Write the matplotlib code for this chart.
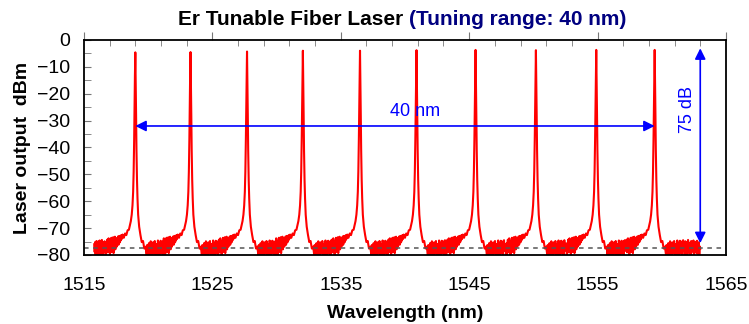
import matplotlib.pyplot as plt
import numpy as np
from matplotlib.ticker import MultipleLocator

plt.rcParams['font.family'] = ['Liberation Sans', 'DejaVu Sans']

# laser lines: centre wavelength (nm) and peak power (dBm)
peak_nm = [1519.0, 1523.3, 1527.7, 1532.05, 1536.5, 1540.9, 1545.5, 1550.2, 1554.9, 1559.45]
peak_dbm = [-4.6, -4.5, -4.3, -4.0, -4.0, -3.8, -3.7, -3.8, -3.7, -3.7]

trace_start = 1515.8
trace_end = 1563.0

# line shape read around one peak (same for all lines)
floor_step = 0.035
left_floor_start = -3.2
left_floor = [-76.0, -78.9, -75.2, -80.0, -77.4, -74.8, -79.1, -76.3, -80.0, -75.0,
              -77.8, -79.6, -74.6, -77.0, -80.0, -75.8, -78.3, -74.4, -79.2, -76.6,
              -80.0, -75.3, -77.9, -74.9, -78.8, -76.1, -80.0, -75.5,
              -77.6, -74.3, -79.0, -75.9, -73.8, -78.4, -76.2, -80.0, -74.7, -77.3,
              -73.6, -78.9, -75.4, -76.8, -73.4, -79.3, -74.8, -76.5, -73.2, -77.9,
              -75.1, -73.7, -76.9, -74.2,
              -75.6, -73.1, -76.2, -74.0, -72.9, -75.3, -73.5, -74.6, -72.6, -74.1,
              -73.0, -72.4, -73.3]
core_off = [-0.9, -0.8, -0.7, -0.6, -0.5, -0.42, -0.35, -0.28, -0.22, -0.17, -0.13,
            -0.09, -0.06, -0.03, 0.0, 0.03, 0.06, 0.09, 0.13, 0.17, 0.22, 0.3, 0.4,
            0.5, 0.6, 0.7, 0.8]
core_dbm = [-73.6, -72.0, -72.6, -70.8, -70.6, -68.9, -67.4, -65.0, -61.5, -56.5, -49.0,
            -37.0, -25.0, -13.0, 0.0, -15.0, -28.0, -41.0, -52.0, -59.0, -65.0, -69.5, -72.6,
            -75.2, -74.8, -77.6, -76.9]
right_floor_start = 0.85
right_floor = [-78.6, -80.0, -76.3, -79.2, -77.5, -80.0, -75.6, -78.4, -80.0, -76.8,
               -74.9, -78.9, -76.0, -80.0, -77.2, -75.3, -79.5, -76.6, -78.1, -74.8,
               -77.7, -80.0, -75.9, -78.6, -76.4, -79.8, -74.6, -77.3, -75.5, -80.0,
               -76.9, -78.2, -74.7, -79.4, -76.1, -77.8, -75.0, -80.0, -76.7, -74.5,
               -78.5, -75.8, -77.4, -79.9, -74.9, -76.8, -78.0, -75.2, -80.0, -77.1,
               -74.4, -78.7, -76.2, -79.3, -75.4, -77.6, -80.0, -74.8, -76.5, -78.8,
               -75.7, -77.9, -74.6, -80.0, -76.3, -78.4, -75.1, -79.1, -76.0, -77.5,
               -74.7, -79.6, -76.4, -78.2, -75.3, -80.0, -76.8, -77.7, -75.5]

noise_level = -77.3

shape_off = np.concatenate([left_floor_start + floor_step * np.arange(len(left_floor)),
                            core_off,
                            right_floor_start + floor_step * np.arange(len(right_floor))])
shape_dbm = np.concatenate([left_floor, core_dbm, right_floor])
top = shape_off == 0.0

wl = []
lvl = []
for i, c in enumerate(peak_nm):
    lo = trace_start - c if i == 0 else (peak_nm[i - 1] - c) / 2
    hi = trace_end - c if i == len(peak_nm) - 1 else (peak_nm[i + 1] - c) / 2
    keep = (shape_off >= lo) & (shape_off < hi)
    y = shape_dbm.copy()
    y[top] = peak_dbm[i]
    wl.append(c + shape_off[keep])
    lvl.append(y[keep])
wl = np.concatenate(wl)
lvl = np.concatenate(lvl)

fig = plt.figure(figsize=(7.49, 3.24), dpi=100)
ax = fig.add_axes([0.1121, 0.2130, 0.8571, 0.6636])

ax.plot(wl, lvl, color='#ff0000', linewidth=1.5)
ax.axhline(noise_level, color='#555555', linestyle=(0, (3, 3)), linewidth=1.1)

ax.set_xlim(1515, 1565)
ax.set_ylim(-80, 0)
ax.xaxis.set_major_locator(MultipleLocator(10, offset=5))
ax.xaxis.set_minor_locator(MultipleLocator(2, offset=1))
ax.yaxis.set_major_locator(MultipleLocator(10))
ax.yaxis.set_minor_locator(MultipleLocator(5))

ax.tick_params(axis='x', which='both', bottom=False, top=True, labelsize=14, pad=10, color='#777777')
ax.tick_params(axis='x', which='major', direction='out', length=6)
ax.tick_params(axis='x', which='minor', direction='in', length=4)
ax.tick_params(axis='y', which='both', direction='in', length=5, labelsize=14, pad=10, color='#777777')
for s in ax.spines.values():
    s.set_linewidth(1.3)

ax.set_xlabel('Wavelength (nm)', fontsize=14, fontweight='bold', labelpad=8)
ax.set_ylabel('Laser output  dBm', fontsize=14, fontweight='bold', labelpad=4)

# 40 nm tuning span
ax.annotate('', xy=(peak_nm[0], -32), xytext=(peak_nm[-1], -32),
            arrowprops=dict(arrowstyle='<|-|>', color='#0000ff', lw=1.2,
                            shrinkA=0, shrinkB=0, mutation_scale=16))
ax.text(1540.75, -26.5, '40 nm', color='#0000ff', fontsize=13, ha='center', va='center')

# 75 dB contrast
ax.annotate('', xy=(1563, -3.1), xytext=(1563, -75.6),
            arrowprops=dict(arrowstyle='<|-|>', color='#0000ff', lw=1.2,
                            shrinkA=0, shrinkB=0, mutation_scale=16))
ax.text(1562.0, -26, '75 dB', color='#0000ff', fontsize=13, rotation=90,
        ha='center', va='center')

t1 = fig.text(178 / 749, 1 - 25 / 324, 'Er Tunable Fiber Laser ', fontsize=15,
              fontweight='bold', color='black', ha='left', va='baseline')
ax.annotate('(Tuning range: 40 nm)', xycoords=t1, xy=(1, 0), va='bottom',
            fontsize=15, fontweight='bold', color='#000080', annotation_clip=False)

fig.savefig('out.png', dpi=100)
